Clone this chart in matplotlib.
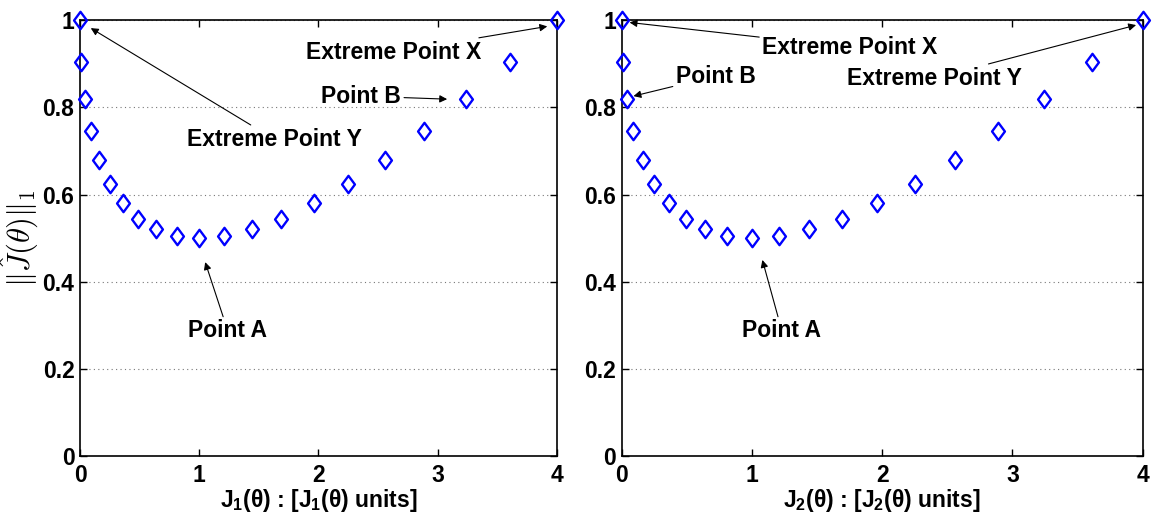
"""Two-panel scatter of the L1 norm against each objective, with labelled extreme points"""

import matplotlib

matplotlib.use("Agg")
import matplotlib.pyplot as plt
from matplotlib.path import Path

# region data
j1_values = [0.0, 0.01, 0.04, 0.09, 0.16, 0.25, 0.36, 0.49, 0.64, 0.81, 1.0,
             1.21, 1.44, 1.69, 1.96, 2.25, 2.56, 2.89, 3.24, 3.61, 4.0]
j2_values = [0.0, 0.01, 0.04, 0.09, 0.16, 0.25, 0.36, 0.49, 0.64, 0.81, 1.0,
             1.21, 1.44, 1.69, 1.96, 2.25, 2.56, 2.89, 3.24, 3.61, 4.0]
norm_values = [1.0, 0.905, 0.82, 0.745, 0.68, 0.625, 0.58, 0.545, 0.52, 0.505, 0.5,
               0.505, 0.52, 0.545, 0.58, 0.625, 0.68, 0.745, 0.82, 0.905, 1.0]

x_ticks = [0, 1, 2, 3, 4]
y_ticks = [0, 0.2, 0.4, 0.6, 0.8, 1]
y_tick_labels = ["0", "0.2", "0.4", "0.6", "0.8", "1"]

# (label, text position, arrow target) per panel
left_notes = [
    ("Extreme Point X", (2.63, 0.927), (3.92, 0.986)),
    ("Point B", (2.36, 0.826), (3.08, 0.819)),
    ("Extreme Point Y", (1.63, 0.727), (0.09, 0.982)),
    ("Point A", (1.24, 0.287), (1.05, 0.445)),
]
right_notes = [
    ("Extreme Point X", (1.75, 0.938), (0.06, 0.995)),
    ("Point B", (0.72, 0.872), (0.09, 0.826)),
    ("Extreme Point Y", (2.40, 0.867), (3.95, 0.989)),
    ("Point A", (1.23, 0.287), (1.08, 0.45)),
]
# endregion

plt.rcParams["font.family"] = ["Liberation Sans", "DejaVu Sans"]
plt.rcParams["font.weight"] = "bold"
plt.rcParams["mathtext.fontset"] = "custom"
plt.rcParams["mathtext.rm"] = "Liberation Sans"
plt.rcParams["mathtext.bf"] = "Liberation Sans:bold"
plt.rcParams["mathtext.it"] = "Liberation Sans:italic"

DIAMOND = Path([(0, 1), (0.74, 0), (0, -1), (-0.74, 0), (0, 1)], closed=True)
FONT_SIZE = 16.5


def _axis_label(idx):
    # bold J and units, regular-weight (θ)
    part = r"J$_\mathbf{%d}\mathrm{(θ)}$" % idx
    return f"{part} : [{part} units]"


def _style_axis(ax, xlabel):
    ax.set_xlim(0, 4)
    ax.set_ylim(0, 1)
    ax.set_xticks(x_ticks)
    ax.set_yticks(y_ticks)
    ax.set_yticklabels(y_tick_labels)
    ax.tick_params(direction="in", top=True, right=True, length=5, width=1,
                   labelsize=FONT_SIZE)
    ax.tick_params(axis="x", pad=6)
    ax.tick_params(axis="y", pad=4)
    for label in ax.get_xticklabels() + ax.get_yticklabels():
        label.set_fontweight("bold")
    for spine in ax.spines.values():
        spine.set_linewidth(1.2)
    ax.grid(axis="y", linestyle=(0, (1, 3)), color="#777777", linewidth=0.8)
    ax.set_axisbelow(True)
    ax.set_xlabel(xlabel, fontsize=FONT_SIZE, fontweight="bold", labelpad=0)


def _draw_panel(ax, xs, notes, xlabel):
    ax.plot(xs, norm_values, linestyle="none", marker=DIAMOND, markersize=12.5,
            markerfacecolor="none", markeredgecolor="#0000ff", markeredgewidth=1.7,
            clip_on=False, zorder=3)
    for text, text_xy, target in notes:
        ax.annotate(text, xy=target, xytext=text_xy, ha="center", va="center",
                    fontsize=FONT_SIZE, fontweight="bold",
                    arrowprops=dict(arrowstyle="-|>", color="black", lw=0.8,
                                    mutation_scale=11, shrinkA=0, shrinkB=0))
    _style_axis(ax, xlabel)


fig = plt.figure(figsize=(11.6, 5.2), dpi=100)
ax_left = fig.add_axes([0.069, 0.123, 0.411, 0.838])
ax_right = fig.add_axes([0.536, 0.123, 0.449, 0.838])

_draw_panel(ax_left, j1_values, left_notes, _axis_label(1))
_draw_panel(ax_right, j2_values, right_notes, _axis_label(2))

ylabel = ax_left.set_ylabel(r"$\|\hat{J}(\theta)\|_1$", fontsize=22, labelpad=1)
ylabel.set_math_fontfamily("cm")

fig.savefig("out.png", dpi=100)
